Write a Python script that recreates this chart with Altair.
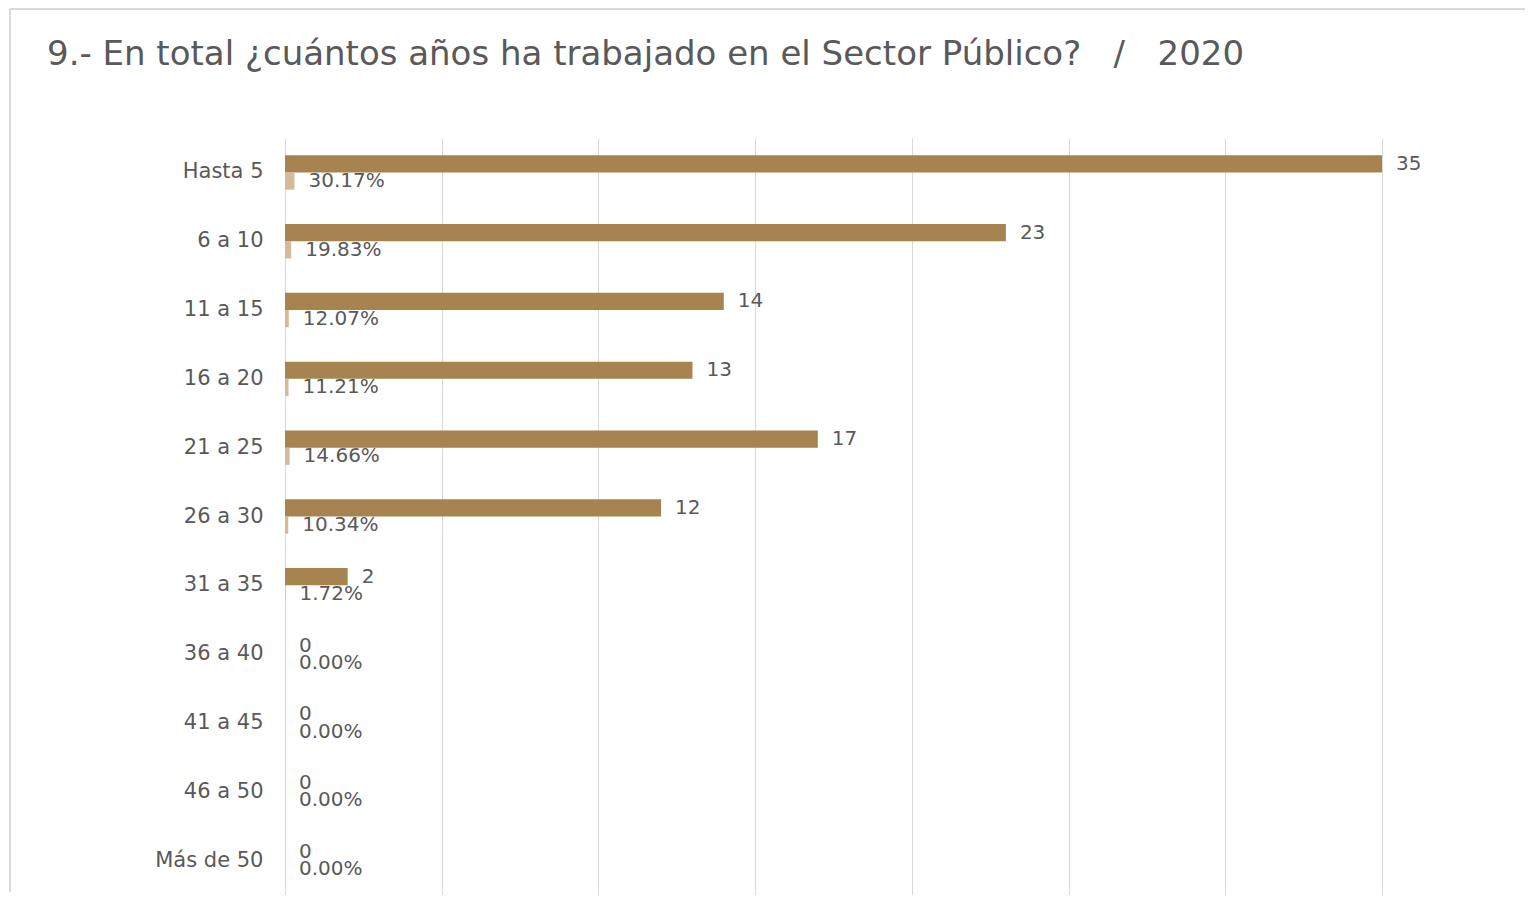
import altair as alt
import pandas as pd

title_text = "9.- En total ¿cuántos años ha trabajado en el Sector Público?\u00a0\u00a0\u00a0/\u00a0\u00a0\u00a02020"
categories = ["Hasta 5", "6 a 10", "11 a 15", "16 a 20", "21 a 25", "26 a 30",
              "31 a 35", "36 a 40", "41 a 45", "46 a 50", "Más de 50"]
counts = [35, 23, 14, 13, 17, 12, 2, 0, 0, 0, 0]
percents = [30.17, 19.83, 12.07, 11.21, 14.66, 10.34, 1.72, 0.00, 0.00, 0.00, 0.00]
series = ["Frecuencia", "Porcentaje"]
colors = ["#A6834F", "#D4B99A"]
x_ticks = [0, 5, 10, 15, 20, 25, 30, 35]

rows = []
for c, n, p in zip(categories, counts, percents):
    rows.append({"cat": c, "serie": series[0], "valor": n, "etiqueta": f"{n}"})
    rows.append({"cat": c, "serie": series[1], "valor": p / 100.0, "etiqueta": f"{p:.2f}%"})
df = pd.DataFrame(rows)

FONT = "DejaVu Sans"
TXT = "#595959"
W, H = 1097, 757

y_enc = alt.Y("cat:N", sort=categories, title=None,
              scale=alt.Scale(paddingInner=0, paddingOuter=0),
              axis=alt.Axis(labelFont=FONT, labelFontSize=21, labelColor=TXT,
                            labelPadding=22, ticks=False, domain=False, grid=False))
yoff = alt.YOffset("serie:N", sort=series,
                   scale=alt.Scale(paddingInner=0, paddingOuter=1.0))
x_enc = alt.X("valor:Q", title=None,
              scale=alt.Scale(domain=[0, 35], nice=False, zero=True),
              axis=alt.Axis(values=x_ticks, labels=False, ticks=False, domain=False,
                            grid=True, gridColor="#d9d9d9", gridWidth=1))

base = alt.Chart(df)
bars = base.mark_bar().encode(
    y=y_enc, yOffset=yoff, x=x_enc,
    color=alt.Color("serie:N", sort=series, legend=None,
                    scale=alt.Scale(domain=series, range=colors)),
)
labels = base.mark_text(align="left", baseline="middle", dx=14,
                        font=FONT, fontSize=20, color=TXT).encode(
    y=alt.Y("cat:N", sort=categories), yOffset=alt.YOffset("serie:N", sort=series),
    x="valor:Q", text="etiqueta:N",
)

title_df = pd.DataFrame({"t": [title_text]})
title = alt.Chart(title_df).mark_text(align="left", baseline="alphabetic",
                                      font=FONT, fontSize=34, color=TXT).encode(
    text="t:N", x=alt.value(-238), y=alt.value(-73))

frame_df = pd.DataFrame({"k": [1]})
top_line = alt.Chart(frame_df).mark_rule(color="#d9d9d9", strokeWidth=2).encode(
    x=alt.value(-275), x2=alt.value(1240), y=alt.value(-129))
left_line = alt.Chart(frame_df).mark_rule(color="#d9d9d9", strokeWidth=2).encode(
    x=alt.value(-275), y=alt.value(-129), y2=alt.value(H - 3))

chart = alt.layer(top_line, left_line, bars, labels, title).properties(
    width=W, height=H, padding={"left": 1, "top": 0, "right": 0, "bottom": 0},
    background="white",
).configure_view(stroke=None)

chart.save("out.html", embed_options={"renderer": "svg", "actions": False})
